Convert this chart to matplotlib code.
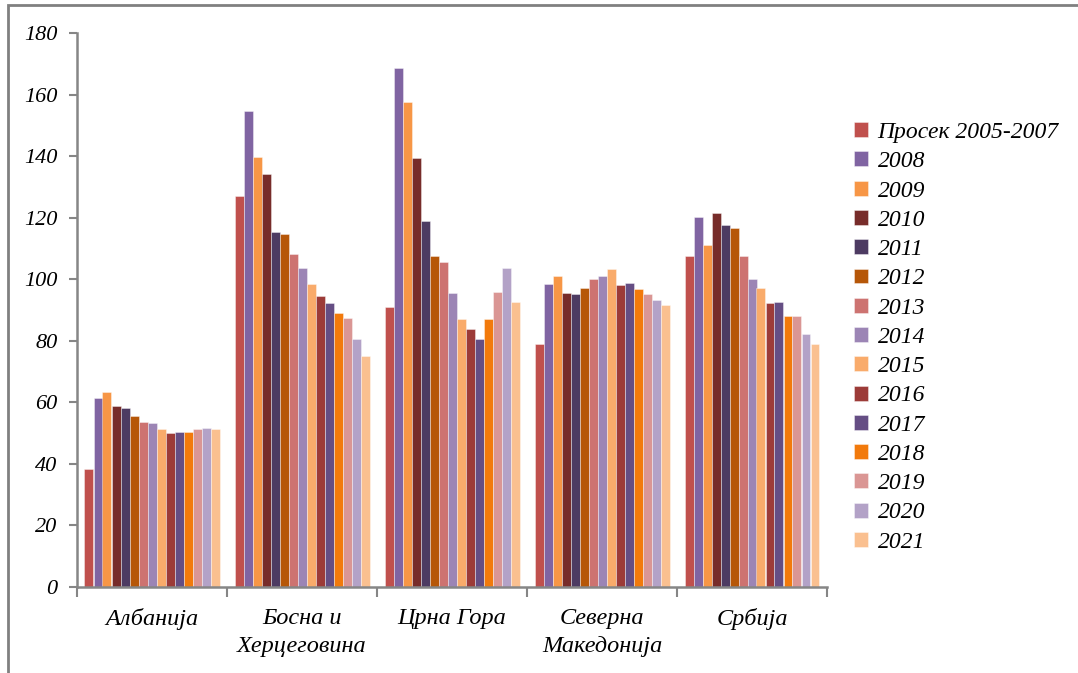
import matplotlib
matplotlib.use("Agg")
import matplotlib.pyplot as plt
import numpy as np
from matplotlib.patches import Rectangle

categories = ["Албанија", "Босна и\nХерцеговина", "Црна Гора", "Северна\nМакедонија", "Србија"]
series_names = ["Просек 2005-2007", "2008", "2009", "2010", "2011", "2012", "2013",
                "2014", "2015", "2016", "2017", "2018", "2019", "2020", "2021"]

albania = [38.3, 61.3, 63.2, 58.8, 58.0, 55.4, 53.6, 53.2, 51.2, 50.1, 50.4, 50.4, 51.3, 51.7, 51.3]
bosnia = [127.0, 154.6, 139.7, 134.2, 115.3, 114.7, 108.3, 103.5, 98.4, 94.5, 92.3, 89.1, 87.3, 80.6, 75.0]
montenegro = [90.9, 168.5, 157.5, 139.3, 118.9, 107.4, 105.6, 95.4, 87.1, 83.8, 80.6, 87.1, 95.9, 103.6, 92.7]
north_macedonia = [78.9, 98.4, 100.9, 95.5, 95.2, 97.0, 100.1, 101.1, 103.4, 98.2, 98.7, 96.8, 95.1, 93.1, 91.6]
serbia = [107.4, 120.2, 111.1, 121.6, 117.7, 116.7, 107.5, 100.1, 97.1, 92.4, 92.6, 88.0, 87.9, 82.3, 78.9]

colors = ["#C0504D", "#8064A2", "#F79646", "#772C2A", "#4D3B62", "#B65708", "#CD7371",
          "#9C85B5", "#F9AB6B", "#9C3B38", "#654E84", "#F27A0C", "#DA9694", "#B3A2C7", "#FAC090"]

data = np.array([albania, bosnia, montenegro, north_macedonia, serbia])  # shape (5, 15)

plt.rcParams['font.family'] = ['Liberation Serif', 'DejaVu Serif']
plt.rcParams['font.style'] = 'italic'

fig = plt.figure(figsize=(10.78, 6.73), dpi=100)
ax = fig.add_axes([77/1078, 86/673, (827-77)/1078, (640-86)/673])

n = len(series_names)
width = 0.9 / n
x = np.arange(len(categories))
for i, name in enumerate(series_names):
    offs = (i - (n - 1) / 2) * width
    ax.bar(x + offs, data[:, i], width=width, color=colors[i], label=name,
           edgecolor=(1, 1, 1, 0.45), linewidth=0.6)

ax.set_xlim(-0.5, len(categories) - 0.5)
ax.set_ylim(0, 180)
ax.set_yticks(np.arange(0, 181, 20))
ax.set_xticks(x)
ax.set_xticklabels(categories, fontsize=17.5, linespacing=1.45)
ax.set_xticks(np.arange(-0.5, len(categories), 1), minor=True)
ax.tick_params(axis='x', which='major', length=0, pad=15)
ax.tick_params(axis='x', which='minor', length=7, width=1.5, color='#868686', direction='out')
ax.tick_params(axis='y', length=6, width=1.5, color='#868686', labelsize=16, pad=8)
for lab in ax.get_yticklabels() + ax.get_xticklabels():
    lab.set_fontstyle('italic')

for s in ['top', 'right']:
    ax.spines[s].set_visible(False)
for s in ['left', 'bottom']:
    ax.spines[s].set_color('#868686')
    ax.spines[s].set_linewidth(1.8)

leg = ax.legend(loc='upper left', bbox_to_anchor=(854/1078, 1 - 122/673),
                bbox_transform=fig.transFigure, frameon=False,
                prop={'size': 17, 'style': 'italic'},
                handlelength=0.6, handleheight=0.6, handletextpad=0.4,
                labelspacing=0.35, borderaxespad=0, borderpad=0)

frame = Rectangle((8/1078, -0.1), 1.2, 1 - 5/673 + 0.1, transform=fig.transFigure,
                  fill=False, edgecolor='#808080', linewidth=2, zorder=0)
fig.patches.append(frame)

fig.savefig("out.png", dpi=100)
